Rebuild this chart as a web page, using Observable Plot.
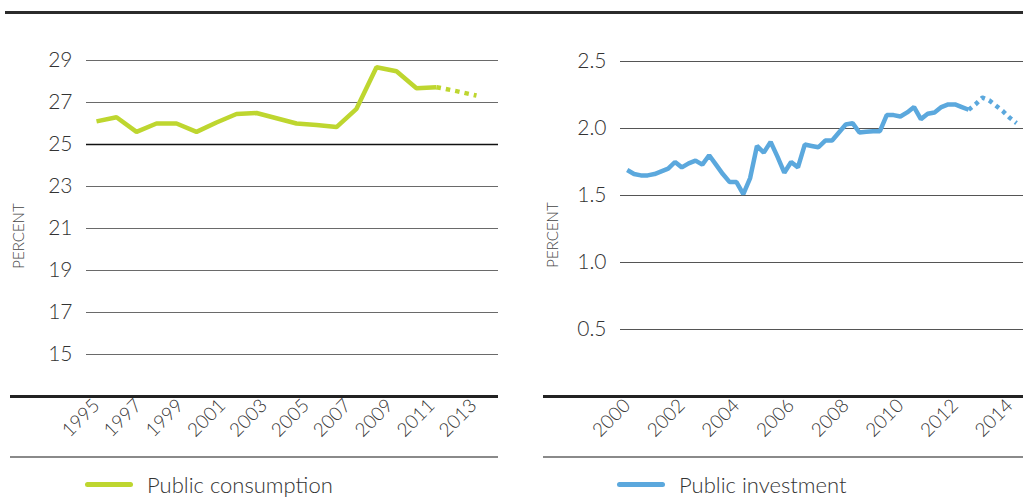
<!DOCTYPE html>
<html><head><meta charset="utf-8">
<script src="https://cdn.jsdelivr.net/npm/d3@7"></script>
<script src="https://cdn.jsdelivr.net/npm/@observablehq/plot@0.6"></script>
<style>
  html,body{margin:0;padding:0;background:#fff;}
  body{width:1023px;height:501px;overflow:hidden;position:relative;font-family:Lato,"Open Sans",sans-serif;color:#333;}
  .abs{position:absolute;}
  .rule-top{left:5px;top:11px;width:1018px;height:3px;background:#2b2b2b;}
  .rule-thick{height:3px;background:#222;}
  .rule-thin{height:2px;background:#8a8a8a;}
  .legend{display:flex;align-items:center;font-size:22px;font-weight:300;color:#333;white-space:nowrap;}
  .swatch{width:48px;height:5px;border-radius:3px;margin-right:14px;}
</style></head><body>
<div class="abs rule-top"></div>
<div id="leftMain" class="abs" style="left:0;top:0"></div>
<div id="rightMain" class="abs" style="left:510px;top:0"></div>
<div class="abs rule-thick" style="left:10px;top:395px;width:488px"></div>
<div class="abs rule-thick" style="left:543px;top:395px;width:480px"></div>
<div id="leftAxis" class="abs" style="left:0;top:393px"></div>
<div id="rightAxis" class="abs" style="left:510px;top:393px"></div>
<div class="abs rule-thin" style="left:10px;top:456px;width:488px"></div>
<div class="abs rule-thin" style="left:543px;top:456px;width:480px"></div>
<div class="abs legend" style="left:85px;top:471px"><div class="swatch" style="background:#bed62f"></div><span>Public consumption</span></div>
<div class="abs legend" style="left:617px;top:471px"><div class="swatch" style="background:#5ba8dd"></div><span>Public investment</span></div>
<script>
// ---------- data ----------
const consumptionYears = [1995,1996,1997,1998,1999,2000,2001,2002,2003,2004,2005,2006,2007,2008,2009,2010,2011,2012];
const consumptionActual = [26.1,26.3,25.6,26.0,26.0,25.6,26.05,26.45,26.5,26.25,26.0,25.93,25.83,26.7,28.68,28.49,27.68,27.73];
const consumptionProjYears = [2012,2013,2014];
const consumptionProjected = [27.73,27.54,27.33];
const consumptionTickYears = [1995,1997,1999,2001,2003,2005,2007,2009,2011,2013];
const consumptionYTicks = [15,17,19,21,23,25,27,29];

// quarterly, 2000Q1 .. 2012Q3
const investmentStart = 2000;
const investmentActual = [1.69,1.66,1.65,1.65,1.66,1.68,1.70,1.75,1.71,1.74,1.76,1.73,1.80,1.73,1.66,1.60,1.60,1.51,1.63,1.87,1.82,1.90,1.79,1.67,1.75,1.71,1.88,1.87,1.86,1.91,1.91,1.97,2.03,2.04,1.97,1.975,1.98,1.98,2.10,2.10,2.09,2.12,2.16,2.07,2.11,2.12,2.16,2.18,2.18,2.16,2.14];
// projection, 2012Q3 .. 2014Q2
const investmentProjected = [2.14,2.18,2.23,2.21,2.17,2.13,2.08,2.04];
const investmentTickYears = [2000,2002,2004,2006,2008,2010,2012,2014];
const investmentYTicks = [0.5,1.0,1.5,2.0,2.5];

const green = "#bed62f", blue = "#5ba8dd";
const font = 'Lato, "Open Sans", sans-serif';

// ---------- tables ----------
const consA = consumptionYears.map((year,i)=>({year, value: consumptionActual[i]}));
const consP = consumptionProjYears.map((year,i)=>({year, value: consumptionProjected[i]}));
const invA = investmentActual.map((value,i)=>({t: investmentStart + i/4, value}));
const offset = investmentActual.length - 1;
const invP = investmentProjected.map((value,i)=>({t: investmentStart + (offset+i)/4, value}));

// ---------- left main ----------
const leftMain = Plot.plot({
  width: 510, height: 400,
  marginTop: 39, marginBottom: 4, marginLeft: 86, marginRight: 12,
  style: {fontFamily: font, fontSize: "21px", fontWeight: 300, color: "#333", background: "transparent", overflow: "visible"},
  x: {domain: [1995, 2014], range: [96, 476], axis: null},
  y: {domain: [13, 30], range: [396, 39], label: null},
  marks: [
    Plot.ruleY(consumptionYTicks.filter(d => d !== 25), {stroke: "#6a6a6a", strokeWidth: 1.1}),
    Plot.ruleY(consumptionYTicks.filter(d => d === 25), {stroke: "#111", strokeWidth: 1.6}),
    Plot.axisY(consumptionYTicks, {tickSize: 0, tickPadding: 14, fontSize: 21, fontWeight: 300}),
    Plot.line(consA, {x: "year", y: "value", stroke: green, strokeWidth: 4.5, strokeLinejoin: "miter", strokeLinecap: "butt"}),
    Plot.line(consP, {x: "year", y: "value", stroke: green, strokeWidth: 4.5, strokeDasharray: "4.5,5", strokeLinecap: "butt"}),
    Plot.text(["PERCENT"], {frameAnchor: "left", text: d => d, rotate: -90, dx: -67.5, dy: 18, fontSize: 15, fontWeight: 300, fill: "#444", textAnchor: "middle", lineAnchor: "middle"})
  ]
});
document.getElementById("leftMain").append(leftMain);

const leftAxis = Plot.plot({
  width: 510, height: 66,
  marginTop: 0, marginBottom: 60, marginLeft: 0, marginRight: 0,
  style: {fontFamily: font, fontSize: "19px", fontWeight: 300, color: "#333", background: "transparent", overflow: "visible"},
  x: {domain: [1995, 2013], range: [96, 473], label: null},
  marks: [
    Plot.axisX(consumptionTickYears, {anchor: "bottom", tickSize: 0, tickPadding: 3, tickRotate: -45, tickFormat: d => String(d), fontSize: 19, fontWeight: 300, label: null})
  ]
});
document.getElementById("leftAxis").append(leftAxis);

// ---------- right main ----------
const rightMain = Plot.plot({
  width: 513, height: 400,
  marginTop: 27, marginBottom: 4, marginLeft: 110, marginRight: 0,
  style: {fontFamily: font, fontSize: "21px", fontWeight: 300, color: "#333", background: "transparent", overflow: "visible"},
  x: {domain: [2000, 2014.25], range: [116.7, 506], axis: null},
  y: {domain: [0, 2.75], range: [396, 27.5], label: null},
  marks: [
    Plot.ruleY(investmentYTicks, {stroke: "#555", strokeWidth: 1.2}),
    Plot.axisY(investmentYTicks, {tickSize: 0, tickPadding: 14, tickFormat: d3.format(".1f"), fontSize: 21, fontWeight: 300}),
    Plot.line(invA, {x: "t", y: "value", stroke: blue, strokeWidth: 4.5, strokeLinejoin: "miter", strokeLinecap: "butt"}),
    Plot.line(invP, {x: "t", y: "value", stroke: blue, strokeWidth: 4.5, strokeDasharray: "4,4.5", strokeLinecap: "butt"}),
    Plot.text(["PERCENT"], {frameAnchor: "left", text: d => d, rotate: -90, dx: -67, dy: 23, fontSize: 15, fontWeight: 300, fill: "#444", textAnchor: "middle", lineAnchor: "middle"})
  ]
});
document.getElementById("rightMain").append(rightMain);

const rightAxis = Plot.plot({
  width: 513, height: 66,
  marginTop: 0, marginBottom: 60, marginLeft: 0, marginRight: 0,
  style: {fontFamily: font, fontSize: "19px", fontWeight: 300, color: "#333", background: "transparent", overflow: "visible"},
  x: {domain: [2000, 2014.25], range: [116.7, 506], label: null},
  marks: [
    Plot.axisX(investmentTickYears, {anchor: "bottom", tickSize: 0, tickPadding: 3, tickRotate: -45, tickFormat: d => String(d), fontSize: 19, fontWeight: 300, label: null})
  ]
});
document.getElementById("rightAxis").append(rightAxis);
</script>
</body></html>
